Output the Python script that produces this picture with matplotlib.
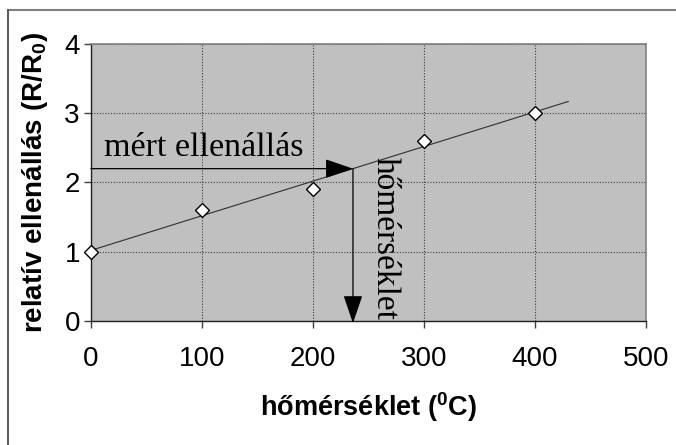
import numpy as np
import matplotlib.pyplot as plt
from matplotlib.lines import Line2D

plt.rcParams['font.family'] = ['Liberation Sans', 'DejaVu Sans']
plt.rcParams['mathtext.fontset'] = 'custom'
plt.rcParams['mathtext.rm'] = 'Liberation Sans'
plt.rcParams['mathtext.bf'] = 'Liberation Sans:bold'

# mérési pontok
homerseklet = [0, 100, 200, 300, 400]
rel_ellenallas = [1.0, 1.6, 1.9, 2.6, 3.0]
mert_ertek = 2.2          # leolvasott relatív ellenállás
trend_vege = 430          # trendvonal vége (°C)

x_ticks = [0, 100, 200, 300, 400, 500]
y_ticks = [0, 1, 2, 3, 4]

# lineáris illesztés
meredekseg, tengely = np.polyfit(homerseklet, rel_ellenallas, 1)
T_mert = (mert_ertek - tengely) / meredekseg

fig = plt.figure(figsize=(6.76, 4.45), dpi=100)
ax = fig.add_axes([91 / 676, 1 - 321 / 445, 555 / 676, 277 / 445])
ax.set_facecolor('#c0c0c0')

ax.set_xlim(0, 500)
ax.set_ylim(0, 4)
ax.set_xticks(x_ticks)
ax.set_yticks(y_ticks)
ax.grid(True, color='#404040', linestyle=(0, (1, 1.5)), linewidth=0.8)
ax.set_axisbelow(True)

for s in ['top', 'right']:
    ax.spines[s].set_color('#808080')
    ax.spines[s].set_linewidth(1.2)
for s in ['left', 'bottom']:
    ax.spines[s].set_color('#202020')
    ax.spines[s].set_linewidth(1.0)

ax.tick_params(axis='x', direction='out', length=5, width=1, color='#404040',
               labelsize=20, pad=13)
ax.tick_params(axis='y', direction='out', length=5, width=1, color='#404040',
               labelsize=20, pad=3)

# trendvonal
tx = np.array([0, trend_vege])
ax.plot(tx, tengely + meredekseg * tx, color='#303030', linewidth=0.8, zorder=3)

# mért pontok
ax.plot(homerseklet, rel_ellenallas, linestyle='none', marker='D', markersize=7,
        markerfacecolor='white', markeredgecolor='black', markeredgewidth=1.0,
        zorder=4, clip_on=False)

# leolvasás nyilai
nyil = dict(arrowstyle='-|>,head_length=1.75,head_width=0.6', mutation_scale=10,
            color='black', linewidth=0.9, shrinkA=0, shrinkB=0)
ax.annotate('', xy=(T_mert, mert_ertek), xytext=(0, mert_ertek),
            arrowprops=nyil, zorder=5, annotation_clip=False)
ax.annotate('', xy=(T_mert, -0.03), xytext=(T_mert, mert_ertek),
            arrowprops=nyil, zorder=5, annotation_clip=False)

ax.text(12, mert_ertek + 0.08, 'mért ellenállás', family='Liberation Serif',
        fontsize=24.5, ha='left', va='bottom', zorder=6)
ax.text(T_mert + 15, mert_ertek + 0.17, 'hőmérséklet', family='Liberation Serif',
        fontsize=24, rotation=-90, ha='left', va='top', zorder=6)

ax.set_xlabel(r'hőmérséklet ($^{\mathbf{0}}$C)', fontsize=19.5, fontweight='bold',
              labelpad=13)
ax.set_ylabel(r'relatív ellenállás (R/R$_{\mathbf{0}}$)', fontsize=20,
              fontweight='bold', labelpad=10)

# külső keret
fig.add_artist(Line2D([8 / 676, 1], [1 - 10 / 445, 1 - 10 / 445],
                      transform=fig.transFigure, color='#808080', linewidth=1.5))
fig.add_artist(Line2D([8 / 676, 8 / 676], [0, 1 - 10 / 445],
                      transform=fig.transFigure, color='#606060', linewidth=1.5))

fig.savefig('out.png', dpi=100)
